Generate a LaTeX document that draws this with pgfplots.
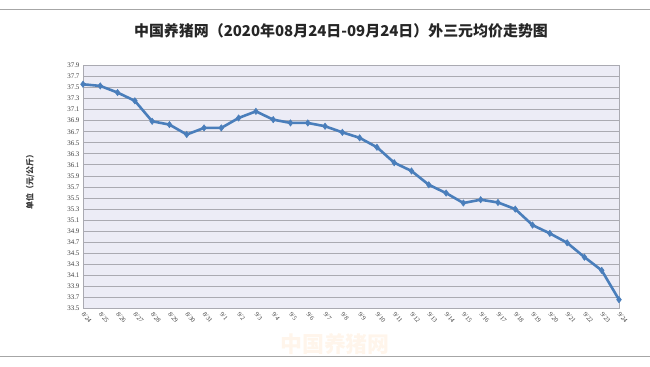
\documentclass[border=0pt]{standalone}
\usepackage{pgfplots}
\pgfplotsset{compat=1.18}
\usepackage{fontspec}
\setmainfont{Liberation Serif}
\newfontfamily\cjk{Noto Sans CJK SC}
\definecolor{lineblue}{RGB}{74,126,187}
\definecolor{plotbg}{RGB}{236,236,246}
\definecolor{gridc}{RGB}{170,170,178}
\begin{document}
\begin{tikzpicture}[x=1bp,y=1bp]
\path[use as bounding box] (0,0) rectangle (650,366);
\draw[gray!70, line width=1bp] (0,356) -- (650,356);
\draw[gray!70, line width=1bp] (0,10) -- (650,10);
\node[font=\cjk\fontsize{15}{15}\selectfont\bfseries, text=black!85] at (341,335) {中国养猪网（2020年08月24日-09月24日）外三元均价走势图};
\node[font=\cjk\fontsize{8}{8}\selectfont\bfseries, rotate=90, text=black!80] at (30,186) {单位（元/公斤）};
\node[font=\cjk\fontsize{22}{22}\selectfont\bfseries, text=orange!8] at (335,22) {中国养猪网};
\begin{axis}[
  at={(83bp,57.5bp)}, anchor=south west,
  scale only axis, width=536bp, height=243bp,
  xmin=0, xmax=31, ymin=33.5, ymax=37.9,
  axis background/.style={fill=plotbg},
  axis line style={gridc, line width=0.8bp},
  ytick={33.5,33.7,33.9,34.1,34.3,34.5,34.7,34.9,35.1,35.3,35.5,35.7,35.9,36.1,36.3,36.5,36.7,36.9,37.1,37.3,37.5,37.7,37.9},
  yticklabel style={font=\fontsize{7}{7}\selectfont, text=black!75},
  yticklabel={\pgfmathprintnumber[fixed,fixed zerofill,precision=1]{\tick}},
  /pgf/number format/assume math mode=true,
  ymajorgrids, grid style={gridc, line width=0.9bp},
  major tick length=0pt,
  xtick={0,...,31},
  xticklabels={8/24,8/25,8/26,8/27,8/28,8/29,8/30,8/31,9/1,9/2,9/3,9/4,9/5,9/6,9/7,9/8,9/9,9/10,9/11,9/12,9/13,9/14,9/15,9/16,9/17,9/18,9/19,9/20,9/21,9/22,9/23,9/24},
  xticklabel style={font=\fontsize{6.5}{6.5}\selectfont, text=black!75, rotate=-50, anchor=west, yshift=-3bp},
  clip=false,
]
\addplot[lineblue, line width=2.6bp, mark=diamond*, mark size=3.2bp, mark options={fill=lineblue, draw=lineblue, line width=0.5bp}] coordinates {
(0,37.56) (1,37.53) (2,37.41) (3,37.26) (4,36.89) (5,36.83) (6,36.65) (7,36.77)
(8,36.77) (9,36.95) (10,37.07) (11,36.92) (12,36.86) (13,36.86) (14,36.80) (15,36.69)
(16,36.59) (17,36.42) (18,36.14) (19,35.99) (20,35.74) (21,35.59) (22,35.41) (23,35.47)
(24,35.42) (25,35.30) (26,35.01) (27,34.86) (28,34.69) (29,34.43) (30,34.19) (31,33.66)
};
\end{axis}
\end{tikzpicture}
\end{document}
